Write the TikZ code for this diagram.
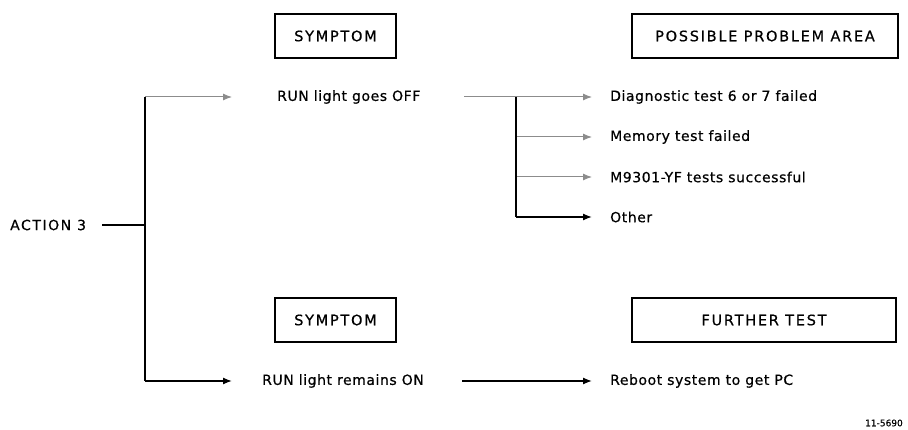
\documentclass[tikz,border=0pt]{standalone}
\usepackage{fontspec}
\setmainfont{DejaVu Sans}
\newfontfamily\hdrfont[LetterSpace=12,FakeBold=0.6]{DejaVu Sans}
\newfontfamily\lblfont[LetterSpace=4,FakeBold=0.6]{DejaVu Sans}
\newfontfamily\actfont[LetterSpace=11,FakeBold=0.6]{DejaVu Sans}
\newfontfamily\idfont[FakeBold=0.6]{DejaVu Sans}
\usetikzlibrary{arrows.meta}
\begin{document}
\begin{tikzpicture}[x=1pt,y=-1pt,
  hdr/.style={draw,line width=1.2pt,minimum height=44pt,font=\hdrfont\fontsize{14.5}{16}\selectfont,inner sep=0pt},
  lbl/.style={anchor=west,font=\lblfont\fontsize{14}{16}\selectfont,inner sep=0pt},
  conn/.style={line width=1.3pt},
  faint/.style={line width=1pt,black!45},
  arr/.style={-{Latex[length=9pt,width=7pt]}}]
\useasboundingbox (0,0) rectangle (908,430);
% header boxes
\node[hdr,minimum width=121pt] (s1) at (335.5,36) {SYMPTOM};
\node[hdr,minimum width=266pt] (p1) at (765,36) {POSSIBLE PROBLEM AREA};
\node[hdr,minimum width=121pt] (s2) at (335.5,320) {SYMPTOM};
\node[hdr,minimum width=264pt] (f1) at (764,320) {FURTHER TEST};
% labels
\node[lbl,font=\actfont\fontsize{14}{16}\selectfont] (act) at (10,225) {ACTION 3};
\node[lbl] (r1) at (277,97) {RUN light goes OFF};
\node[lbl] (r2) at (262,381) {RUN light remains ON};
\node[lbl] (d1) at (610,97) {Diagnostic test 6 or 7 failed};
\node[lbl] (d2) at (610,137) {Memory test failed};
\node[lbl] (d3) at (610,177) {M9301-YF tests successful};
\node[lbl] (d4) at (610,217) {Other};
\node[lbl] (rb) at (610,381) {Reboot system to get PC};
\node[anchor=east,font=\idfont\fontsize{9}{10}\selectfont,inner sep=0pt] (id) at (903,423) {11-5690};
% coordinates
\coordinate (jA) at (145,225);
\coordinate (sA) at (102,225);
\coordinate (tA) at (145,97);
\coordinate (bA) at (145,381);
\coordinate (eA1) at (232,97);
\coordinate (eA2) at (232,381);
\coordinate (jB) at (516,97);
\coordinate (jB2) at (516,137);
\coordinate (jB3) at (516,177);
\coordinate (jB4) at (516,217);
\coordinate (sB) at (464,97);
\coordinate (sC) at (462,381);
% connectors
\draw[conn] (sA) -- (jA);
\draw[conn] (tA) -- (bA);
\draw[faint,arr] (tA) -- (eA1);
\draw[conn,arr] (bA) -- (eA2);
\draw[faint] (sB) -- (jB);
\draw[faint,arr] (jB) -- ([xshift=-18pt]d1.west);
\draw[faint,arr] (jB2) -- ([xshift=-18pt]d2.west);
\draw[faint,arr] (jB3) -- ([xshift=-18pt]d3.west);
\draw[conn,arr] (jB4) -- ([xshift=-18pt]d4.west);
\draw[conn] (jB) -- (jB4);
\draw[conn,arr] (sC) -- ([xshift=-18pt]rb.west);
\end{tikzpicture}
\end{document}
